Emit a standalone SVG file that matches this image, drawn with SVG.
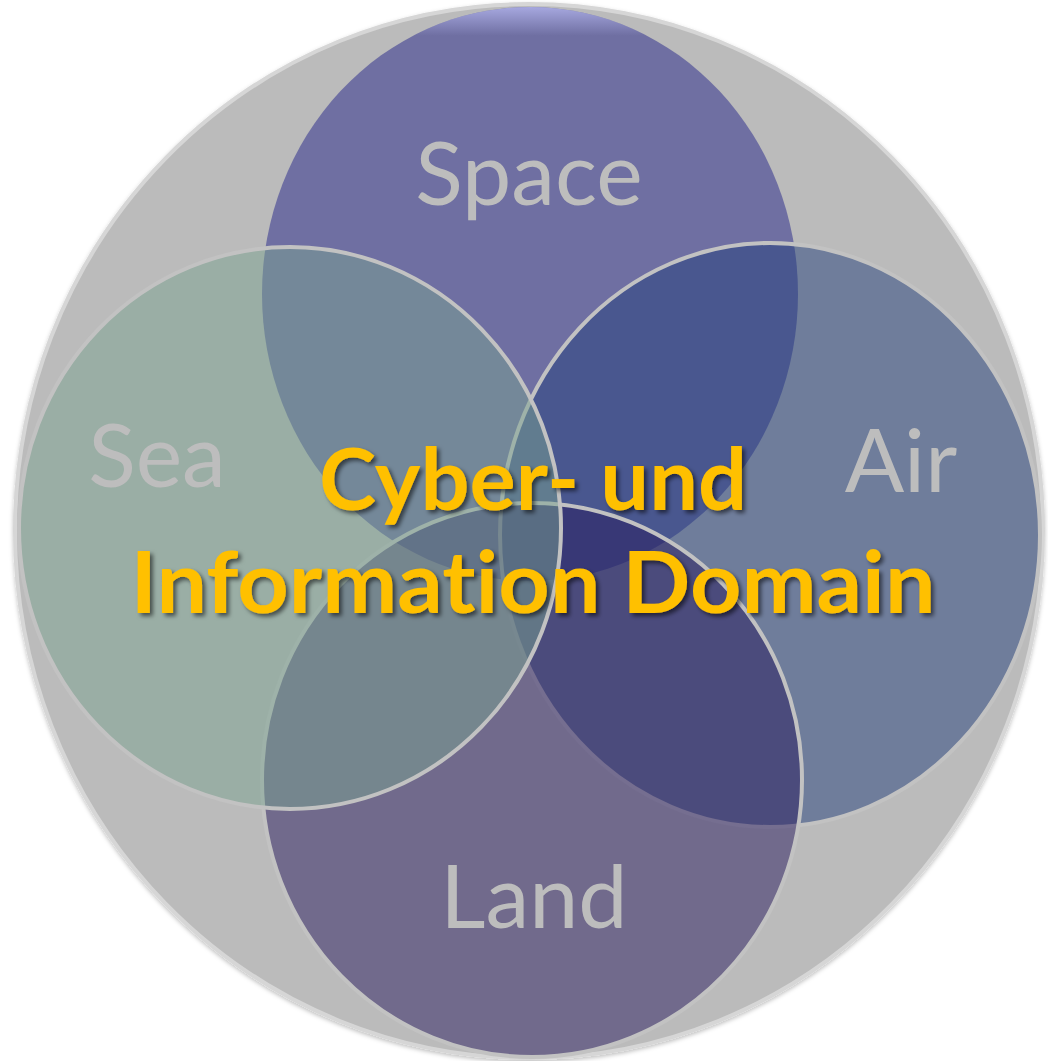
<svg xmlns="http://www.w3.org/2000/svg" width="1048" height="1061" viewBox="0 0 1048 1061">
<defs>
<style>
.dom{fill-opacity:0.5;stroke:#c2c2c2;stroke-width:4;}
.lbl{font-family:Lato,"Open Sans","Liberation Sans",sans-serif;font-size:88px;fill:#bdbdbd;text-anchor:middle;}
.core{font-family:Lato,"Open Sans","Liberation Sans",sans-serif;font-weight:bold;font-size:86px;fill:#ffc000;text-anchor:middle;font-variant-ligatures:none;}
</style>
<filter id="shadow" x="-10%" y="-20%" width="120%" height="150%">
<feDropShadow dx="3" dy="3" stdDeviation="2" flood-color="#000" flood-opacity="0.55"/>
</filter>
<filter id="rim" x="-5%" y="-5%" width="110%" height="110%">
<feDropShadow dx="0" dy="2" stdDeviation="2" flood-color="#000" flood-opacity="0.25"/>
</filter>
<linearGradient id="spaceGlow" x1="0" y1="0" x2="0" y2="1">
<stop offset="0" stop-color="#b4b6ee" stop-opacity="0.8"/>
<stop offset="0.05" stop-color="#b4b6ee" stop-opacity="0"/>
<stop offset="1" stop-color="#b4b6ee" stop-opacity="0"/>
</linearGradient>
</defs>
<g id="background">
<ellipse cx="529" cy="531" rx="514" ry="527" fill="#bbbbbb" stroke="#d6d6d6" stroke-width="4" filter="url(#rim)"/>
</g>
<g id="space">
<ellipse cx="530" cy="294" rx="268" ry="287" fill="#23238a" fill-opacity="0.5"/>
<ellipse cx="530" cy="294" rx="268" ry="287" fill="url(#spaceGlow)"/>
<text class="lbl" x="529" y="205">Space</text>
</g>
<g id="air">
<ellipse class="dom" cx="770" cy="535" rx="270" ry="292" fill="#233f7b"/>
</g>
<g id="land">
<ellipse class="dom" cx="532" cy="780" rx="270" ry="277" fill="#27195d"/>
</g>
<g id="sea">
<ellipse class="dom" cx="290" cy="528" rx="271" ry="281" fill="#79a18f"/>
</g>
<g id="labels">
<text class="lbl" x="157" y="487">Sea</text>
<text class="lbl" x="901" y="492">Air</text>
<text class="lbl" x="534" y="928">Land</text>
</g>
<g id="connectors"></g>
<g id="cyber" filter="url(#shadow)">
<text class="core" x="533" y="510" textLength="428" lengthAdjust="spacingAndGlyphs">Cyber- und</text>
<text class="core" x="533" y="613" textLength="805" lengthAdjust="spacingAndGlyphs">Information Domain</text>
</g>
</svg>
